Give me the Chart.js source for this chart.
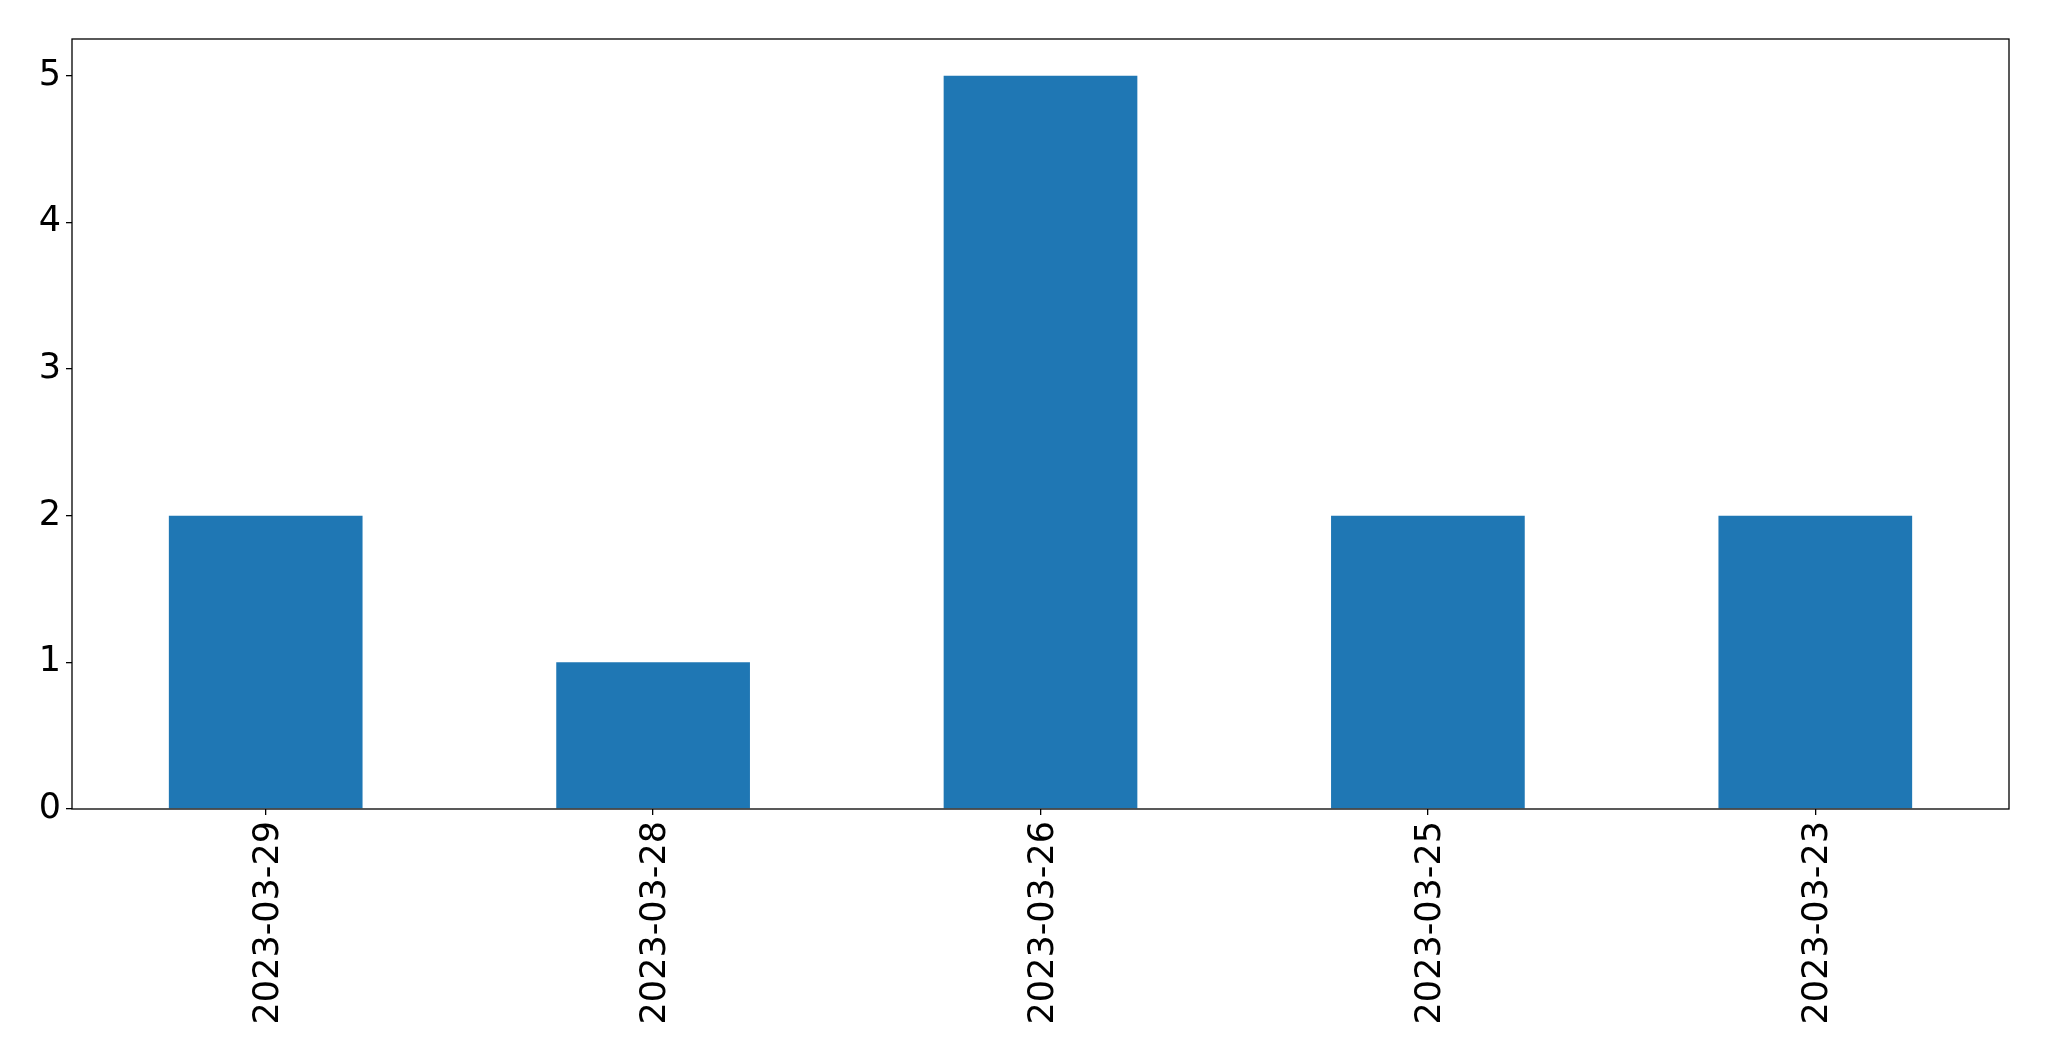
<!DOCTYPE html>
<html>
<head>
<meta charset="utf-8">
<script src="https://cdn.jsdelivr.net/npm/chart.js@4/dist/chart.umd.min.js"></script>
<style>
  html, body { margin: 0; padding: 0; background: #fff; }
  #wrap { width: 2049px; height: 1061px; }
</style>
</head>
<body>
<div id="wrap"><canvas id="myChart" width="2049" height="1061"></canvas></div>
<script>
'use strict';

// data
const dates = ['2023-03-29', '2023-03-28', '2023-03-26', '2023-03-25', '2023-03-23'];
const counts = [2, 1, 5, 2, 2];
const yTicks = [0, 1, 2, 3, 4, 5];

const FONT = 'DejaVu Sans';

// draw the box round the plot area, like matplotlib spines
const frameBox = {
    id: 'frameBox',
    afterDraw(chart) {
        const a = chart.chartArea;
        const c = chart.ctx;
        c.save();
        c.strokeStyle = '#000';
        c.lineWidth = 1.3;
        c.strokeRect(a.left, a.top, a.right - a.left, a.bottom - a.top);
        c.restore();
    }
};

var ctx = document.getElementById('myChart').getContext('2d');
var chart = new Chart(ctx, {
    type: 'bar',
    data: {
        labels: dates,
        datasets: [{
            data: counts,
            backgroundColor: '#1f77b4',
            borderWidth: 0,
            barPercentage: 0.5,
            categoryPercentage: 1.0
        }]
    },
    options: {
        responsive: false,
        animation: false,
        layout: { padding: { top: 39, right: 40, left: 0, bottom: 0 } },
        plugins: {
            legend: { display: false },
            tooltip: { enabled: false }
        },
        scales: {
            x: {
                offset: true,
                grid: { display: true, offset: false, drawOnChartArea: false, drawTicks: true, tickLength: 6, color: '#000', lineWidth: 1.3 },
                border: { display: false },
                ticks: {
                    color: '#000',
                    font: { family: FONT, size: 35 },
                    minRotation: 90,
                    maxRotation: 90,
                    padding: 6,
                    labelOffset: 3,
                    autoSkip: false
                },
                afterFit(scale) { scale.height = 252; }
            },
            y: {
                min: 0,
                max: 5.25,
                grid: { display: true, drawOnChartArea: false, drawTicks: true, tickLength: 6, color: '#000', lineWidth: 1.3 },
                border: { display: false },
                afterBuildTicks(scale) {
                    scale.ticks = yTicks.map(v => ({ value: v }));
                },
                ticks: {
                    color: '#000',
                    font: { family: FONT, size: 35 },
                    padding: 5
                },
                afterFit(scale) { scale.width = 72; }
            }
        }
    },
    plugins: [frameBox]
});
</script>
</body>
</html>
